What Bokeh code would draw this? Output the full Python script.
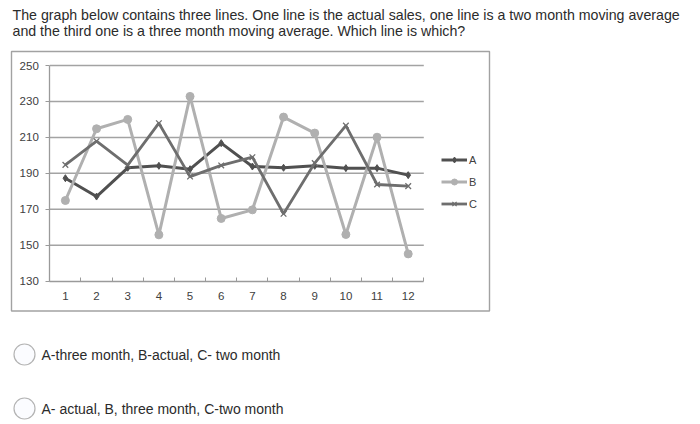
from bokeh.plotting import figure
from bokeh.models import Range1d, FixedTicker, Legend, LegendItem, Label, BoxAnnotation
from bokeh.embed import file_html
from bokeh.resources import INLINE

# ---- data ----
months = [1, 2, 3, 4, 5, 6, 7, 8, 9, 10, 11, 12]
series_a = [187.3, 177.1, 193.1, 194.2, 192.3, 206.8, 193.8, 193.1, 194.2, 192.9, 192.9, 189.0]
series_b = [174.9, 214.8, 220.0, 155.8, 232.8, 164.9, 169.7, 221.3, 212.4, 156.0, 210.1, 145.2]
series_c = [194.7, 207.9, 194.6, 217.9, 188.2, 194.4, 199.0, 167.5, 195.7, 216.6, 183.8, 182.9]
y_ticks = [130, 150, 170, 190, 210, 230, 250]
series_names = ["A", "B", "C"]
question_lines = [
    "The graph below contains three lines.  One line is the actual sales, one line is a two month moving average",
    "and the third one is a three month moving average.  Which line is which?",
]
answer_options = [
    "A-three month, B-actual, C- two month",
    "A- actual, B, three month, C-two month",
]

FONT = "Liberation Sans"
CHART_FONT = "Liberation Sans"
TEXT_COLOR = "#2b2b2b"

# ---- page geometry (pixels); the plotting frame covers the whole page ----
W, H = 700, 424
BOX_L, BOX_R, BOX_T, BOX_B = 11, 489, 51, 310.5     # framed chart image
AX_L, AX_R, AX_T, AX_B = 49.3, 423.3, 65.0, 280.7   # plotting area inside it

x_lo, x_hi = months[0] - 0.5, months[-1] + 0.5
y_lo, y_hi = y_ticks[0], y_ticks[-1]
kx = (AX_R - AX_L) / (x_hi - x_lo)
ky = (AX_B - AX_T) / (y_hi - y_lo)
x_start = x_lo - AX_L / kx
x_end = x_lo + (W - AX_L) / kx
y_end = y_hi + AX_T / ky
y_start = y_hi - (H - AX_T) / ky

p = figure(width=W, height=H, output_backend="svg", toolbar_location=None,
           x_range=Range1d(x_start, x_end), y_range=Range1d(y_start, y_end),
           min_border=0, min_border_left=0, min_border_right=0,
           min_border_top=0, min_border_bottom=0)
p.outline_line_color = None
p.background_fill_color = "white"
p.border_fill_color = "white"


def sx(px):  # page x -> screen units (from frame left)
    return px


def sy(py):  # page y -> screen units (from frame bottom, upward)
    return H - py


# framed chart image border
p.add_layout(BoxAnnotation(left=sx(BOX_L), right=sx(BOX_R), top=sy(BOX_T), bottom=sy(BOX_B),
                           left_units="screen", right_units="screen",
                           top_units="screen", bottom_units="screen",
                           fill_alpha=0, line_color="#a2a2a2", line_alpha=1, line_width=1.4,
                           editable=False))

# axes drawn at fixed data locations
p.xaxis.fixed_location = y_lo
p.xaxis.bounds = (x_lo, x_hi)
p.xaxis.ticker = FixedTicker(ticks=months, minor_ticks=[m - 0.5 for m in months] + [x_hi])
p.xaxis.major_tick_in = 0
p.xaxis.major_tick_out = 0
p.xaxis.minor_tick_in = 4
p.xaxis.minor_tick_out = 0
p.xaxis.minor_tick_line_color = "#9a9a9a"
p.xaxis.major_label_standoff = 11
p.yaxis.fixed_location = x_lo
p.yaxis.bounds = (y_lo, y_hi)
p.yaxis.ticker = FixedTicker(ticks=y_ticks)
p.yaxis.major_tick_in = 0
p.yaxis.major_tick_out = 4
p.yaxis.minor_tick_line_color = None
p.yaxis.major_label_standoff = 7
for ax in (p.xaxis, p.yaxis):
    ax.axis_line_color = "#9a9a9a"
    ax.axis_line_width = 1.3
    ax.major_tick_line_color = "#9a9a9a"
    ax.major_label_text_font = CHART_FONT
    ax.major_label_text_font_size = "11.5px"
    ax.major_label_text_color = "#404040"
p.grid.visible = False

# horizontal gridlines over the plotting area
p.segment(x0=[x_lo] * (len(y_ticks) - 1), y0=y_ticks[1:],
          x1=[x_hi] * (len(y_ticks) - 1), y1=y_ticks[1:],
          line_color="#a3a3a3", line_width=1.5)

# series
la = p.line(months, series_a, line_color="#505050", line_width=3)
sa = p.scatter(months, series_a, marker="diamond", size=7, fill_color="#505050", line_color="#505050")
lb = p.line(months, series_b, line_color="#b0b0b0", line_width=3)
sb = p.scatter(months, series_b, marker="circle", size=8, fill_color="#b0b0b0", line_color="#b0b0b0")
lc = p.line(months, series_c, line_color="#6e6e6e", line_width=2.8)
sc = p.scatter(months, series_c, marker="x", size=8, line_color="#6e6e6e", line_width=1.3)

legend = Legend(items=[LegendItem(label=series_names[0], renderers=[la, sa]),
                       LegendItem(label=series_names[1], renderers=[lb, sb]),
                       LegendItem(label=series_names[2], renderers=[lc, sc])],
                location=(int(sx(441)), int(sy(211))), orientation="vertical",
                glyph_width=26, glyph_height=15, label_height=15, label_width=8,
                spacing=7, padding=0, margin=0, label_standoff=2,
                border_line_color=None, background_fill_alpha=0,
                label_text_font=CHART_FONT, label_text_font_size="11px",
                label_text_color="#404040")
p.add_layout(legend, "center")

# question text
for i, t in enumerate(question_lines):
    p.add_layout(Label(x=sx(12), y=sy(14 + i * 16), x_units="screen", y_units="screen",
                       text=t, text_font=FONT, text_font_size="14.2px",
                       text_color=TEXT_COLOR, text_baseline="middle"))

# answer options (radio circles + text)
opt_y = [354, 408]
for yy, t in zip(opt_y, answer_options):
    p.add_layout(BoxAnnotation(left=sx(13.5), right=sx(34.5), top=sy(yy - 10.5), bottom=sy(yy + 10.5),
                               left_units="screen", right_units="screen",
                               top_units="screen", bottom_units="screen",
                               fill_color="#fbfcff", fill_alpha=1,
                               line_color="#b4b4b4", line_alpha=1, line_width=1.2,
                               border_radius=11, editable=False))
    p.add_layout(Label(x=sx(41), y=sy(yy), x_units="screen", y_units="screen",
                       text=t, text_font=FONT, text_font_size="14px",
                       text_color=TEXT_COLOR, text_baseline="middle"))

open("out.html", "w").write(file_html(p, INLINE))
